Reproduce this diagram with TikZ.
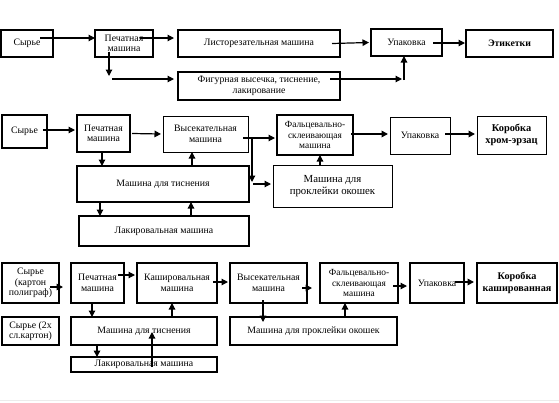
\documentclass[tikz,border=0pt]{standalone}
\usepackage{fontspec}
\setmainfont{Liberation Serif}
\usetikzlibrary{arrows.meta}
\begin{document}
\begin{tikzpicture}[x=1pt,y=-1pt,
  box/.style={draw,line width=1.4pt,inner sep=1pt,outer sep=0pt,align=center,
    font=\fontsize{9.8}{10.6}\selectfont},
  thinbox/.style={box,line width=0.7pt},
  midbox/.style={box,line width=1pt},
  arr/.style={line width=1.2pt,-{Triangle[length=6.5pt,width=6.5pt]}},
  plain/.style={line width=1.2pt}]
\useasboundingbox (0,0) rectangle (559,402);
\draw[gray!15,line width=0.8pt] (0,400) -- (559,400);
% ---------- row 1 ----------
\node[box,minimum width=52pt,minimum height=27pt] (s1) at (27,43.5) {Сырье};
\node[box,minimum width=58pt,minimum height=27pt] (p1) at (124,43.5) {Печатная\\машина};
\node[box,minimum width=162pt,minimum height=27pt] (l1) at (259,43.5) {Листорезательная машина};
\node[box,minimum width=162pt,minimum height=28pt] (f1) at (259,86) {Фигурная высечка, тиснение,\\лакирование};
\node[box,minimum width=71pt,minimum height=27pt] (u1) at (406.5,42.5) {Упаковка};
\node[box,minimum width=87pt,minimum height=27pt,font=\fontsize{9.8}{10.6}\selectfont\bfseries] (e1) at (509.5,43.5) {Этикетки};
\coordinate (j1) at (109,76);
\coordinate (j1b) at (112,79);
\coordinate (c1) at (402,79);
\coordinate (c1b) at (404,80);
\draw[arr] ([shift={(-13pt,5.5pt)}]s1.east) -- ([yshift=5.5pt]p1.west);
\draw[arr] ([shift={(-13pt,5.5pt)}]p1.east) -- ([shift={(-4pt,5.5pt)}]l1.west);
\draw[arr] ([shift={(-15pt,5.5pt)}]p1.south) -- (j1);
\draw[arr] (j1b) -- ([shift={(-4pt,7pt)}]f1.west);
\draw[arr] ([xshift=-8pt]l1.east) -- ([xshift=-2pt]u1.west);
\draw[arr] ([shift={(-10pt,7pt)}]f1.east) -- (c1);
\draw[arr] (c1b) -- ([xshift=-2.5pt]u1.south);
\draw[arr] ([shift={(-9pt,-0.5pt)}]u1.east) -- ([shift={(-1pt,0.5pt)}]e1.west);
% ---------- row 2 ----------
\node[box,minimum width=45pt,minimum height=33pt] (s2) at (24.5,131.5) {Сырье};
\node[box,minimum width=53pt,minimum height=37pt] (p2) at (103.5,133.5) {Печатная\\машина};
\node[midbox,minimum width=85pt,minimum height=36pt] (v2) at (205.5,134) {Высекательная\\машина};
\node[box,minimum width=172pt,minimum height=36pt] (t2) at (163,184) {Машина для тиснения};
\node[box,minimum width=170pt,minimum height=30pt] (lk2) at (164,231) {Лакировальная машина};
\node[box,minimum width=76pt,minimum height=40pt,font=\fontsize{9.4}{10.4}\selectfont] (fs2) at (315,135) {Фальцевально-\\склеивающая\\машина};
\node[thinbox,minimum width=119pt,minimum height=42pt,font=\fontsize{10.8}{12}\selectfont] (pr2) at (332.5,186) {Машина для\\проклейки окошек};
\node[midbox,minimum width=60pt,minimum height=37pt] (u2) at (420,135.5) {Упаковка};
\node[midbox,minimum width=69pt,minimum height=38pt,font=\fontsize{10.4}{12}\selectfont\bfseries] (k2) at (511.5,135) {Коробка\\хром-эрзац};
\coordinate (j2) at (252,138);
\coordinate (j3) at (252,182);
\coordinate (j3b) at (253,184);
\draw[arr] ([shift={(-4pt,1.5pt)}]s2.east) -- ([shift={(-2pt,3.5pt)}]p2.west);
\draw[arr] ([xshift=2pt]p2.east) -- ([xshift=-2pt]v2.west);
\draw[arr] ([xshift=-1.5pt]p2.south) -- ([xshift=-61pt]t2.north);
\draw[arr] ([xshift=29pt]t2.north) -- ([xshift=-13.5pt]v2.south);
\draw[arr] ([xshift=-63pt]t2.south) -- ([xshift=-64pt]lk2.north);
\draw[arr] ([xshift=27pt]lk2.north) -- ([xshift=28pt]t2.south);
\draw[arr] ([shift={(-5pt,-4pt)}]v2.east) -- ([shift={(-2pt,-3pt)}]fs2.west);
\draw[arr] (j2) -- (j3);
\draw[arr] (j3b) -- ([shift={(-2pt,2pt)}]pr2.west);
\draw[arr] ([xshift=-12.5pt]pr2.north) -- ([xshift=5pt]fs2.south);
\draw[arr,line width=1.7pt] ([shift={(-2pt,1pt)}]fs2.east) -- ([shift={(-2pt,1.5pt)}]u2.west);
\draw[arr,line width=1.7pt] ([shift={(-5pt,1.5pt)}]u2.east) -- ([shift={(-2pt,1pt)}]k2.west);
% ---------- row 3 ----------
\node[box,minimum width=57pt,minimum height=40pt] (s3a) at (30.5,283) {Сырье\\(картон\\полиграф)};
\node[box,minimum width=57pt,minimum height=28pt] (s3b) at (30.5,331) {Сырье (2х\\сл.картон)};
\node[box,minimum width=53pt,minimum height=40pt] (p3) at (97.5,283) {Печатная\\машина};
\node[box,minimum width=80pt,minimum height=40pt] (k3) at (177,283) {Кашировальная\\машина};
\node[box,minimum width=146pt,minimum height=28pt] (t3) at (144,331) {Машина для тиснения};
\node[box,minimum width=146pt,minimum height=15pt] (lk3) at (144,364.5) {Лакировальная машина};
\node[box,minimum width=77pt,minimum height=40pt] (v3) at (268.5,283) {Высекательная\\машина};
\node[box,minimum width=167pt,minimum height=28pt] (pr3) at (313.5,331) {Машина для проклейки окошек};
\node[box,minimum width=78pt,minimum height=40pt,font=\fontsize{9.4}{10.4}\selectfont] (fs3) at (359,283) {Фальцевально-\\склеивающая\\машина};
\node[box,minimum width=54pt,minimum height=40pt] (u3) at (437,283) {Упаковка};
\node[box,minimum width=80pt,minimum height=40pt,font=\fontsize{10.2}{12}\selectfont\bfseries] (k3b) at (517,283) {Коробка\\кашированная};
\draw[arr] ([shift={(-9pt,-4pt)}]s3a.east) -- ([shift={(-8pt,-4pt)}]p3.west);
\draw[arr] ([shift={(-6pt,8pt)}]p3.east) -- ([shift={(-2pt,8pt)}]k3.west);
\draw[arr] ([shift={(-4pt,1pt)}]k3.east) -- ([shift={(-2pt,1pt)}]v3.west);
\draw[arr] ([xshift=-5.5pt]p3.south) -- ([xshift=-52pt]t3.north);
\draw[arr] ([xshift=28pt]t3.north) -- ([xshift=-5pt]k3.south);
\draw[arr] ([shift={(-5.5pt,3pt)}]v3.south) -- ([shift={(-50.5pt,-5pt)}]pr3.north);
\draw[arr,line width=1.6pt] ([xshift=-47pt]t3.south) -- ([xshift=-47pt]lk3.north);
\draw[arr] ([shift={(8pt,-2.5pt)}]lk3.center) -- ([shift={(8pt,-1pt)}]t3.center);
\draw[arr] ([shift={(-5pt,-5pt)}]v3.east) -- ([shift={(-8pt,-5pt)}]fs3.west);
\draw[arr] ([shift={(-5pt,-3pt)}]fs3.east) -- ([shift={(-3pt,-3pt)}]u3.west);
\draw[arr,line width=1.9pt] ([shift={(-9pt,1pt)}]u3.east) -- ([shift={(-3pt,1pt)}]k3b.west);
\draw[arr] ([xshift=31.5pt]pr3.north) -- ([xshift=-14pt]fs3.south);
\end{tikzpicture}
\end{document}
